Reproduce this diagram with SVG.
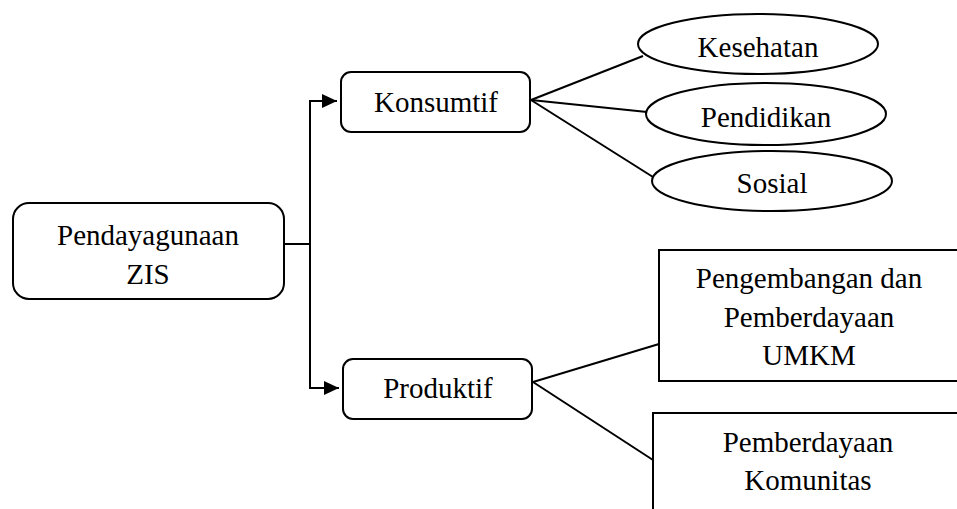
<svg xmlns="http://www.w3.org/2000/svg" width="957" height="509" viewBox="0 0 957 509">
<style>
.box{fill:#fff;stroke:#000;stroke-width:2}
.t{font-family:"Liberation Serif","Times New Roman",serif;font-size:29px;fill:#000;text-anchor:middle}
.c{fill:none;stroke:#000;stroke-width:2}
</style>
<defs>
<marker id="ah" markerWidth="16" markerHeight="14" refX="15" refY="7" orient="auto" markerUnits="userSpaceOnUse">
<path d="M0,0 L15,7 L0,14 Z" fill="#000"/>
</marker>
</defs>
<rect width="957" height="509" fill="#fff"/>
<g id="connectors">
<path class="c" d="M284,244 H310"/>
<path class="c" d="M310,101 V388"/>
<path class="c" d="M309,101 H337" marker-end="url(#ah)"/>
<path class="c" d="M309,388 H339" marker-end="url(#ah)"/>
<path class="c" d="M531,100 L643,56"/>
<path class="c" d="M531,100 L647,112"/>
<path class="c" d="M531,100 L653,177"/>
<path class="c" d="M533,382 L659,344"/>
<path class="c" d="M533,382 L653,460"/>
</g>
<g id="pendayagunaan">
<rect class="box" x="13" y="203" width="271" height="96" rx="16"/>
<text class="t" x="148" y="245">Pendayagunaan</text>
<text class="t" x="148" y="284">ZIS</text>
</g>
<g id="konsumtif">
<rect class="box" x="341" y="72" width="189" height="60" rx="10"/>
<text class="t" x="436" y="112">Konsumtif</text>
</g>
<g id="produktif">
<rect class="box" x="343" y="359" width="189" height="60" rx="10"/>
<text class="t" x="438" y="398">Produktif</text>
</g>
<g id="kesehatan">
<ellipse class="box" cx="758" cy="44" rx="120" ry="30"/>
<text class="t" x="758" y="57">Kesehatan</text>
</g>
<g id="pendidikan">
<ellipse class="box" cx="766" cy="114" rx="120" ry="31"/>
<text class="t" x="766" y="127">Pendidikan</text>
</g>
<g id="sosial">
<ellipse class="box" cx="772" cy="181" rx="120" ry="30"/>
<text class="t" x="772" y="193">Sosial</text>
</g>
<g id="umkm">
<rect class="box" x="659" y="250" width="320" height="131"/>
<text class="t" x="809" y="288">Pengembangan dan</text>
<text class="t" x="809" y="327">Pemberdayaan</text>
<text class="t" x="809" y="365">UMKM</text>
</g>
<g id="komunitas">
<rect class="box" x="653" y="413" width="320" height="120"/>
<text class="t" x="808" y="452">Pemberdayaan</text>
<text class="t" x="808" y="490">Komunitas</text>
</g>
</svg>
